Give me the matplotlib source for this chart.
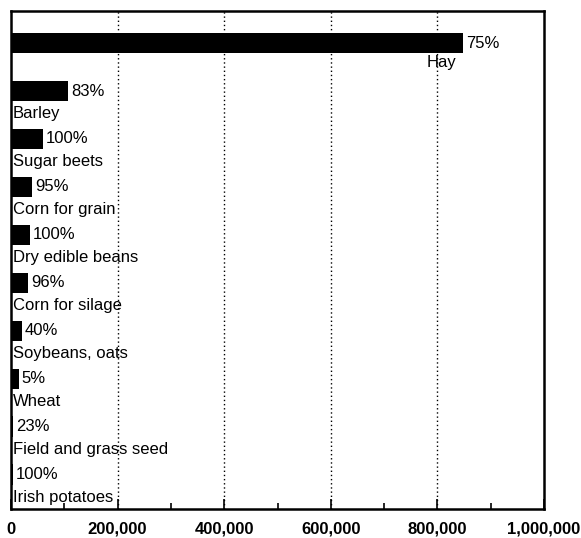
import matplotlib
matplotlib.use("Agg")
import matplotlib.pyplot as plt
from matplotlib.ticker import MultipleLocator, FuncFormatter

crops = ["Hay", "Barley", "Sugar beets", "Corn for grain", "Dry edible beans",
         "Corn for silage", "Soybeans, oats", "Wheat", "Field and grass seed",
         "Irish potatoes"]
acres = [848000, 107000, 60000, 40000, 36000, 32000, 20000, 15000, 4000, 3500]
pct_irrigated = ["75%", "83%", "100%", "95%", "100%", "96%", "40%", "5%", "23%", "100%"]
x_ticks = [0, 200000, 400000, 600000, 800000, 1000000]

plt.rcParams["font.family"] = ["Liberation Sans", "DejaVu Sans"]

fig = plt.figure(figsize=(5.81, 5.38), dpi=100)
ax = fig.add_axes([11 / 581, 1 - 509 / 538, (544 - 11) / 581, (509 - 11) / 538])

y = list(range(len(crops)))
ax.barh(y, acres, height=0.42, color="black", zorder=3)

for i, (name, val, pct) in enumerate(zip(crops, acres, pct_irrigated)):
    ax.annotate(pct, xy=(val, i), xytext=(2, 0), textcoords="offset points",
                ha="left", va="center", fontsize=12)
    if i == 0:
        ax.annotate(name, xy=(val, i), xytext=(-5, -14), textcoords="offset points",
                    ha="right", va="center", fontsize=12)
    else:
        ax.annotate(name, xy=(0, i), xytext=(1.5, -16.5), textcoords="offset points",
                    ha="left", va="center", fontsize=12)

ax.set_xlim(0, 1000000)
ax.set_ylim(9.72, -0.67)
ax.set_yticks([])
ax.set_xticks(x_ticks)
ax.xaxis.set_minor_locator(MultipleLocator(100000))
ax.xaxis.set_major_formatter(FuncFormatter(lambda v, p: f"{int(v):,}"))
ax.tick_params(axis="x", which="major", direction="in", length=7, width=1.2,
               pad=9, labelsize=12)
ax.tick_params(axis="x", which="minor", direction="in", length=4.5, width=1.2)
for lbl in ax.get_xticklabels():
    lbl.set_fontweight("bold")

for gx in x_ticks[1:-1]:
    ax.axvline(gx, color="black", linestyle=(0, (1, 2)), linewidth=1.0, zorder=1)

for sp in ax.spines.values():
    sp.set_linewidth(1.8)

fig.savefig("out.png", dpi=100)
